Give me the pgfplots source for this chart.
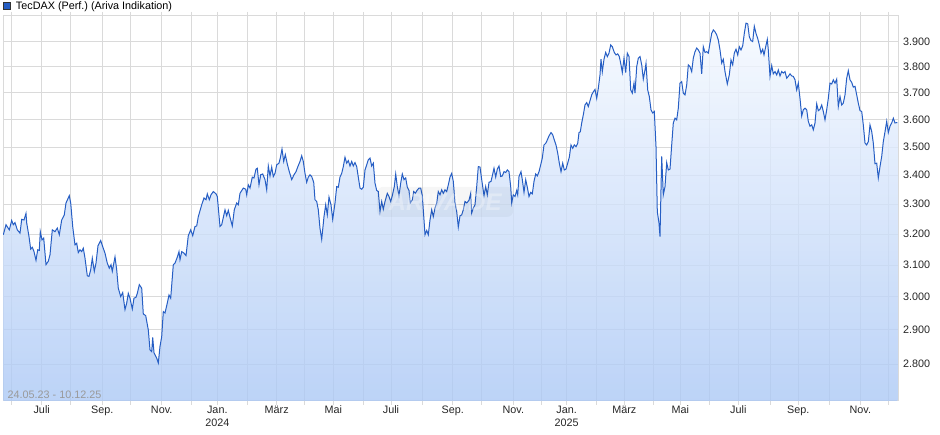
\documentclass[border=0pt]{standalone}
\usepackage{pgfplots}
\pgfplotsset{compat=1.18}
\usepackage{pgfplotstable}
\usepackage{fontspec}
\setmainfont{Liberation Sans}
\frenchspacing

\definecolor{tdline}{RGB}{38,94,196}
\definecolor{tdtop}{RGB}{245,249,255}
\definecolor{tdbot}{RGB}{171,200,245}
\definecolor{gridgray}{RGB}{218,218,218}

% x = position on the trading-day axis (chart pixels), v = index level
\pgfplotstableread{
t v
3.3 3198
6 3231
9.3 3214
11.7 3245
13.3 3231
15 3238
17.3 3214
20 3203
21.7 3249
24 3247
26 3269
26.7 3237
29 3192
30.7 3151
32.3 3157
34 3143
36 3115
37.7 3149
39.3 3147
40.3 3208
42 3181
43.7 3187
46 3101
48.3 3112
50 3133
52.3 3214
55 3208
57.3 3220
59.3 3198
61.7 3247
64.3 3264
66 3304
69.3 3329
70.7 3304
72.7 3225
75 3165
76.7 3170
78.3 3140
80 3149
81.7 3143
83.3 3154
85 3122
87.3 3066
89 3064
90.7 3085
92.3 3122
94.3 3080
96 3106
98 3162
100.7 3179
102.7 3159
105 3138
107.3 3106
109.3 3090
111 3101
112.3 3080
115 3126
116.7 3085
118.3 3027
120.7 3001
122.7 3013
125 2961
126.7 2981
128.3 3011
130 2996
132.3 2963
134 2996
136 2999
137.3 3011
139.3 3038
141.7 3027
143.3 2948
145.7 2943
148.3 2900
150 2841
151.7 2836
152.7 2878
154 2833
156.7 2817
158.3 2803
160 2851
161.7 2880
163.3 2955
165 2951
167.3 2981
169 3006
170.7 2996
173.3 3101
175 3106
177.3 3125
179 3143
180 3117
181.7 3143
184 3138
186 3130
188.3 3195
190.7 3214
192.7 3195
195 3225
196.7 3227
198.3 3258
201.7 3298
204 3321
206 3315
207.3 3335
209.3 3315
211 3332
213.3 3343
216 3335
217.3 3326
220 3225
221.7 3231
225 3281
226.7 3261
228.3 3279
230 3256
232.3 3227
234.3 3281
236.7 3304
238.3 3298
240 3337
243.3 3355
245.7 3351
246.7 3332
248.3 3366
250 3355
252.3 3393
254 3390
256 3421
257.3 3424
259 3366
260.7 3401
262.7 3404
265 3384
266.7 3349
268.3 3432
270 3397
271.7 3428
273.3 3395
275 3406
276.7 3436
279 3442
280.3 3460
282 3492
283.7 3448
285.3 3472
287.3 3439
289.3 3412
291.7 3384
294 3401
296 3412
297.7 3428
300 3448
301.7 3468
303.3 3448
305 3406
306.7 3375
308.3 3393
310 3401
311.7 3395
313.7 3375
315 3315
316.7 3309
318.3 3281
320 3219
321.7 3183
324 3258
325.7 3298
327.3 3264
329 3324
331 3298
332.7 3249
335 3304
336.7 3360
338.3 3358
340 3393
341.7 3406
343.3 3430
345 3463
346.7 3442
348.3 3451
350 3432
351.7 3448
353.3 3432
355 3444
356.7 3430
358.3 3393
360 3355
361.7 3351
363.3 3358
365 3418
366.7 3436
368.3 3454
370 3460
371.7 3432
373.3 3442
375 3372
376.7 3347
378.3 3343
380 3275
381.7 3309
383.3 3283
385 3309
387.3 3337
389 3326
390.7 3309
392.3 3329
394.3 3360
395.7 3404
397.3 3360
399 3329
400.7 3372
402.3 3404
404 3384
405.7 3390
407.3 3358
409 3347
410.3 3304
412.3 3315
413.7 3343
415.3 3337
417 3347
419 3355
420.7 3355
422.3 3329
424 3247
425 3198
426.7 3212
428.3 3198
430 3247
431.7 3281
433.3 3258
435 3287
436.7 3304
438.3 3343
440 3332
441.7 3349
443.3 3337
445 3349
446.7 3343
448.3 3366
450 3393
451.7 3406
453.3 3378
455 3306
456.7 3275
458.3 3223
460 3261
461.7 3264
463.3 3281
465 3309
466.7 3304
469 3313
470.7 3337
471.7 3270
473.3 3287
475 3298
476.7 3360
478.3 3430
480 3428
481.7 3384
484 3329
485.7 3360
487.3 3332
489 3375
491 3378
492.3 3397
494 3424
495.7 3393
497.3 3421
499 3432
500.7 3395
502.3 3397
504 3412
505.7 3409
507.3 3418
509 3412
510.7 3360
511.7 3304
513.3 3332
515 3326
516.7 3347
517.7 3332
519 3395
521 3412
522.3 3384
524 3340
525.7 3384
527.3 3358
529 3326
530.7 3340
532.3 3335
534 3378
535.7 3404
537.3 3397
539 3412
540.7 3436
542.3 3460
544 3507
545.7 3513
547.3 3525
549 3540
551 3552
552.7 3544
554.3 3525
556 3507
557.7 3478
559.3 3442
561 3412
562.7 3442
564.3 3418
566 3421
567.7 3442
569.3 3463
571 3507
572.7 3495
574.3 3507
576 3501
577.7 3513
579 3552
580.3 3555
581.7 3587
583.3 3617
585 3654
586.7 3663
588.3 3648
590 3670
591.7 3692
593.3 3704
595 3713
596.7 3679
598.3 3717
600 3769
601 3830
602.3 3781
604 3830
605.7 3857
607.3 3841
609 3854
610.7 3887
612.3 3880
614.3 3857
616 3847
617.7 3851
619.3 3841
621 3808
622.3 3778
624 3834
625.7 3778
627.3 3854
629 3841
630.7 3711
632.3 3699
634 3737
635 3699
636.7 3801
638.3 3834
640 3841
641.7 3808
643.3 3753
645 3788
646 3814
647.7 3711
649.3 3686
651 3636
652.7 3624
654.3 3630
656 3501
657.3 3275
659 3236
660 3192
661.7 3466
663.3 3332
665 3360
666.7 3444
668.3 3418
670 3421
671.7 3507
673.3 3587
675 3605
676.7 3599
678.3 3642
680 3737
681.7 3743
683.3 3699
685 3692
686.7 3730
688.3 3808
690 3801
691.7 3782
693.3 3834
695 3860
696.7 3874
698.3 3867
700 3854
701.7 3773
703.3 3880
705 3857
706.7 3860
708.3 3854
710 3894
711.7 3933
713.3 3947
715 3940
716.7 3927
718.3 3907
720 3867
721.7 3815
723.3 3830
725 3782
727.3 3734
729.3 3769
731 3827
732.7 3808
734.3 3854
736 3870
737.7 3847
739.3 3880
741 3867
742.7 3883
744.3 3933
746 3975
747.7 3972
749.3 3920
751 3904
752.7 3900
754.3 3962
756 3933
757.7 3913
759.3 3887
761 3854
762.7 3870
764 3847
765.7 3880
767.3 3909
768.3 3867
770 3763
771.7 3805
773.3 3773
775 3782
776.7 3769
778.3 3788
780 3765
781.7 3782
783.3 3776
785 3782
786.7 3756
788.3 3763
790 3773
791.7 3765
793.3 3763
795 3750
796.7 3711
798.3 3737
800 3679
801.7 3613
803.3 3636
805 3642
806.7 3636
808.3 3593
810 3575
811.7 3580
813.3 3562
815 3587
816.7 3658
818.3 3633
820 3638
821.7 3654
823.3 3630
825 3599
826.7 3636
828.3 3679
830 3737
831.7 3734
833.3 3750
835 3737
836.7 3753
838.3 3648
840 3686
841.7 3654
843.3 3661
845 3692
846.7 3756
848.3 3785
850 3750
851.7 3740
853.3 3722
855 3725
856.7 3692
858.3 3661
860 3633
861.7 3630
863.3 3580
865 3514
866.7 3507
868.3 3519
870 3580
871.7 3556
873.3 3514
875 3440
876.7 3442
878.3 3390
880 3430
881.7 3466
883.3 3519
885 3555
886.7 3593
888.3 3552
890 3575
891.7 3587
893.3 3605
895 3587
897.3 3589
}\tecdax

\begin{document}
\begin{tikzpicture}
\useasboundingbox (-3pt,-34pt) rectangle (937pt,401pt);
\begin{axis}[
    at={(0pt,0pt)}, anchor=south west,
    scale only axis, width=895pt, height=385pt,
    xmin=3, xmax=898,
    ymode=log, ymin=2696, ymax=4004, log origin y=infty,
    axis line style={gridgray, line width=0.8pt},
    grid=major, major grid style={gridgray, line width=0.8pt},
    xtick={11.7,41.7,70.7,102.3,130.7,161.7,191.7,217.3,247.3,276.7,304.3,333.3,363.3,391,422.7,452.7,481,513.3,541.7,566.7,596.7,624.3,653.3,680.3,709.3,738.3,770.3,798.3,829.3,860.3,888.3},
    xticklabels={,Juli,,Sep.,,Nov.,,{Jan.\\2024},,März,,Mai,,Juli,,Sep.,,Nov.,,{Jan.\\2025},,März,,Mai,,Juli,,Sep.,,Nov.,},
    ytick={2800,2900,3000,3100,3200,3300,3400,3500,3600,3700,3800,3900},
    yticklabels={2.800,2.900,3.000,3.100,3.200,3.300,3.400,3.500,3.600,3.700,3.800,3.900},
    yticklabel pos=right,
    tick align=outside, major tick length=4pt,
    xtick style={gridgray, line width=0.8pt},
    ytick style={draw=none},
    tick label style={font=\fontsize{10.8}{13}\selectfont, text=black!85},
    xticklabel style={align=center, inner sep=1pt},
    yticklabel style={anchor=west, inner sep=0pt, xshift=1pt},
    legend style={at={(0,1)}, anchor=south west, draw=none, fill=none,
        font=\fontsize{10.8}{13}\selectfont, inner sep=0pt, yshift=3pt,
        legend cell align=left},
]
\addplot[draw=none, top color=tdtop, bottom color=tdbot, fill opacity=0.8, forget plot]
    table[x=t, y=v] {\tecdax} \closedcycle;
\addplot[tdline, line width=1pt,
    legend image code/.code={\draw[fill=tdline, draw=black!80, line width=0.6pt] (0pt,-3.5pt) rectangle (7pt,3.5pt); \path (10pt,0pt);}]
    table[x=t, y=v] {\tecdax};
\addlegendentry{TecDAX (Perf.) (Ariva Indikation)}
\node[anchor=center, fill=black, fill opacity=0.035, text opacity=0.3, text=white,
    rounded corners=6pt, minimum width=136pt, minimum height=30pt,
    font=\bfseries\itshape\fontsize{24}{24}\selectfont]
    at (rel axis cs:0.494,0.517) {ARIVA.DE};
\node[anchor=base west, inner sep=0pt, text=black!40, font=\fontsize{10.8}{13}\selectfont]
    at (rel axis cs:0,0) [xshift=4.5pt, yshift=2.5pt] {24.05.23 - 10.12.25};
\end{axis}
\end{tikzpicture}
\end{document}
